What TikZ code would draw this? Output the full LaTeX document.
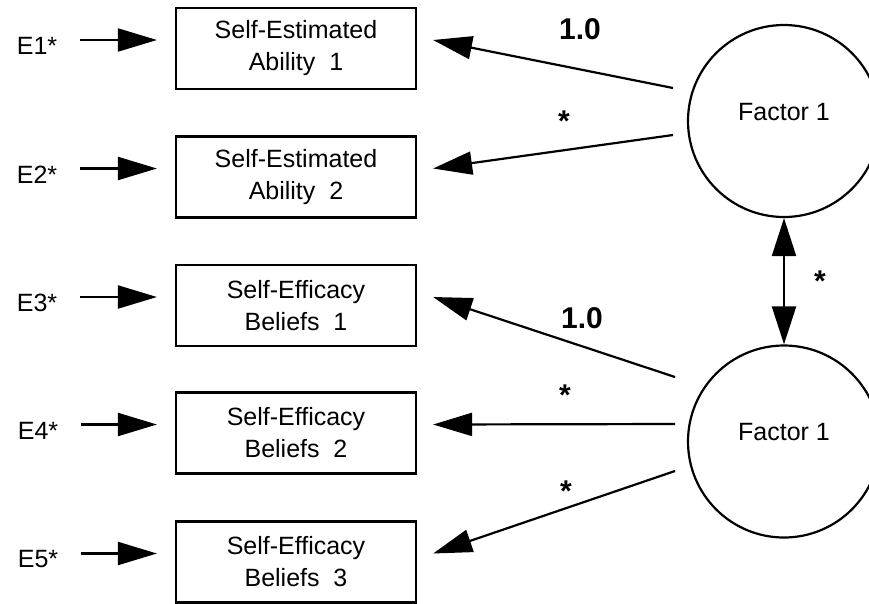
\documentclass[tikz,border=0pt]{standalone}
\usepackage{fontspec}
\setmainfont{Liberation Sans}
\usetikzlibrary{arrows.meta,calc}
\begin{document}
\begin{tikzpicture}[x=1pt,y=-1pt,
  every node/.style={font=\fontsize{25}{32}\selectfont,inner sep=0pt},
  measure/.style={draw,line width=2.2pt,minimum width=240pt,minimum height=81pt,align=center},
  latent/.style={draw,circle,line width=2.2pt,minimum size=192pt},
  errlabel/.style={},
  loading/.style={line width=2.2pt,-{Triangle[length=39pt,width=23pt]}},
  cov/.style={line width=2.2pt,{Triangle[length=38pt,width=24pt]}-{Triangle[length=38pt,width=24pt]}},
  coef/.style={font=\bfseries\fontsize{30}{36}\selectfont},
  free/.style={font=\bfseries\fontsize{30}{36}\selectfont}]
\useasboundingbox (0,0) rectangle (869,603);
\clip (0,0) rectangle (869,603);

% observed variables
\node[measure] (b1) at (296,48.5) {Self-Estimated\\Ability~~1};
\node[measure] (b2) at (296,177)  {Self-Estimated\\Ability~~2};
\node[measure] (b3) at (296,305.5){Self-Efficacy\\Beliefs~~1};
\node[measure] (b4) at (296,433)  {Self-Efficacy\\Beliefs~~2};
\node[measure] (b5) at (296,562)  {Self-Efficacy\\Beliefs~~3};

% error terms
\node[errlabel] (e1) at (37,46)    {E1*};
\node[errlabel] (e2) at (37,174.5) {E2*};
\node[errlabel] (e3) at (37,303)   {E3*};
\node[errlabel] (e4) at (38,430.5) {E4*};
\node[errlabel] (e5) at (38,559.5) {E5*};

\foreach \i in {1,...,5}{
  \coordinate (t\i) at ($(b\i.west)+(-18,-8.5)$);
  \coordinate (u\i) at ($(b\i.east)+(16,-8.5)$);
  \draw[loading] ($(e\i.east |- t\i)+(23,0)$) -- (t\i);
}

% latent factors
\node[latent,label={[yshift=9pt]center:Factor 1}] (f1) at (784,121) {};
\node[latent,label={[yshift=9.5pt]center:Factor 1}] (f2) at (784,441.5) {};

% factor loadings
\coordinate (s1) at ($(f1.center)+(-111,-33)$);
\coordinate (s2) at ($(f1.center)+(-111,14)$);
\coordinate (s3) at ($(f2.center)+(-109,-64.5)$);
\coordinate (s4) at ($(f2.center)+(-109,-17.5)$);
\coordinate (s5) at ($(f2.center)+(-109,29.5)$);
\foreach \i in {1,...,5}{
  \draw[loading] (s\i) -- (u\i);
}

% factor covariance
\draw[cov] (f1.south) -- (f2.north);

% parameter labels
\node[coef] (c1) at (580,29)  {1.0};
\node[free] (p2) at (564,121.5) {*};
\node[coef] (c3) at (582,318) {1.0};
\node[free] (p4) at (565,395.5) {*};
\node[free] (p5) at (566,491.5) {*};
\node[free] (pc) at (820,281.5) {*};
\end{tikzpicture}
\end{document}
